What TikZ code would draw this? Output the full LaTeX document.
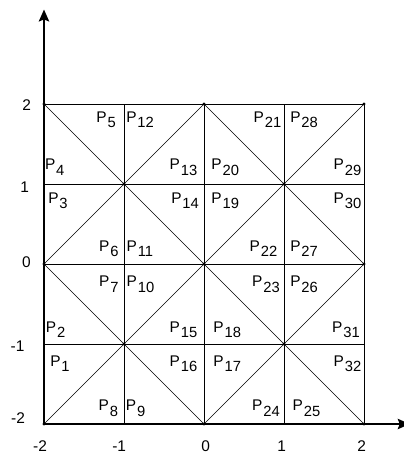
\documentclass[tikz,border=0pt]{standalone}
\usepackage{fontspec}
\setmainfont{Liberation Sans}
\usetikzlibrary{arrows.meta}
\newcommand\Plab[1]{P\kern0.6pt\raisebox{-3.8pt}{\fontsize{10.5}{12}\selectfont #1}}
\begin{document}
\begin{tikzpicture}[x=2cm,y=2cm,
  lab/.style={inner sep=0pt, font=\fontsize{11}{13}\selectfont},
  plw/.style={lab, anchor=base west},
  ple/.style={lab, anchor=base east},
  tick/.style={inner sep=0pt, font=\fontsize{11}{13}\selectfont},
  gridline/.style={line width=0.7pt},
  diag/.style={line width=0.5pt},
  axis/.style={line width=0.9pt, -{Stealth[length=8.5pt,width=7.5pt,inset=1.5pt]}},
  dot/.style={circle, fill=black, inner sep=0pt, minimum size=2.4pt}]
\useasboundingbox (-2.55,-2.4125) rectangle (2.5,3.3);
% vertices
\foreach \c/\x in {a/-2,b/-1,c/0,d/1,e/2}
  \foreach \r/\y in {1/-2,2/-1,3/0,4/1,5/2}
    \coordinate (\c\r) at (\x,\y);
\coordinate (ytip) at (-2,3.18);
\coordinate (xtip) at (2.57,-2);
% grid
\foreach \c in {a,b,c,d,e} \draw[gridline] (\c1) -- (\c5);
\foreach \r in {1,2,3,4,5} \draw[gridline] (a\r) -- (e\r);
% diagonals
\draw[diag] (a5) -- (c3) (a3) -- (c5)
            (c5) -- (e3) (c3) -- (e5)
            (a3) -- (c1) (a1) -- (c3)
            (c3) -- (e1) (c1) -- (e3);
% dots
\foreach \v in {a5,c5,e5,b4,d4,a3,c3,e3,b2,d2,a1,c1,e1}
  \node[dot] (dot\v) at (\v) {};
% axes
\draw[axis] (a1) -- (ytip);
\draw[axis] (a1) -- (xtip);
% tick labels
\node[tick] (ty5) at (-2.215,1.99) {2};
\node[tick] (ty4) at (-2.24,0.966) {1};
\node[tick] (ty3) at (-2.22,0.025) {0};
\node[tick] (ty2) at (-2.33,-1.025) {-1};
\node[tick] (ty1) at (-2.325,-1.925) {-2};
\node[tick] (tx1) at (-2.05,-2.28) {-2};
\node[tick] (tx2) at (-1.06,-2.28) {-1};
\node[tick] (tx3) at (0.02,-2.28) {0};
\node[tick] (tx4) at (0.97,-2.28) {1};
\node[tick] (tx5) at (1.97,-2.28) {2};
% region labels
\node[ple] (p5)  at (-1.10,1.77) {\Plab{5}};
\node[plw] (p12) at (-0.975,1.77) {\Plab{12}};
\node[plw] (p4)  at (-1.99,1.175) {\Plab{4}};
\node[plw] (p3)  at (-1.95,0.755) {\Plab{3}};
\node[ple] (p13) at (-0.08,1.175) {\Plab{13}};
\node[ple] (p14) at (-0.06,0.755) {\Plab{14}};
\node[plw] (p20) at (0.09,1.175) {\Plab{20}};
\node[plw] (p19) at (0.09,0.755) {\Plab{19}};
\node[ple] (p21) at (0.97,1.77) {\Plab{21}};
\node[plw] (p28) at (1.075,1.77) {\Plab{28}};
\node[ple] (p29) at (1.97,1.175) {\Plab{29}};
\node[ple] (p30) at (1.97,0.755) {\Plab{30}};
\node[ple] (p6)  at (-1.065,0.16) {\Plab{6}};
\node[plw] (p11) at (-0.97,0.16) {\Plab{11}};
\node[ple] (p22) at (0.92,0.16) {\Plab{22}};
\node[plw] (p27) at (1.075,0.16) {\Plab{27}};
\node[ple] (p7)  at (-1.065,-0.285) {\Plab{7}};
\node[plw] (p10) at (-0.97,-0.285) {\Plab{10}};
\node[ple] (p23) at (0.95,-0.285) {\Plab{23}};
\node[plw] (p26) at (1.075,-0.285) {\Plab{26}};
\node[plw] (p2)  at (-1.98,-0.855) {\Plab{2}};
\node[ple] (p15) at (-0.08,-0.855) {\Plab{15}};
\node[plw] (p18) at (0.115,-0.855) {\Plab{18}};
\node[ple] (p31) at (1.95,-0.855) {\Plab{31}};
\node[plw] (p1)  at (-1.925,-1.28) {\Plab{1}};
\node[ple] (p16) at (-0.08,-1.28) {\Plab{16}};
\node[plw] (p17) at (0.115,-1.28) {\Plab{17}};
\node[ple] (p32) at (1.97,-1.28) {\Plab{32}};
\node[ple] (p8)  at (-1.07,-1.835) {\Plab{8}};
\node[plw] (p9)  at (-0.98,-1.835) {\Plab{9}};
\node[ple] (p24) at (0.95,-1.835) {\Plab{24}};
\node[plw] (p25) at (1.105,-1.835) {\Plab{25}};
\end{tikzpicture}
\end{document}
